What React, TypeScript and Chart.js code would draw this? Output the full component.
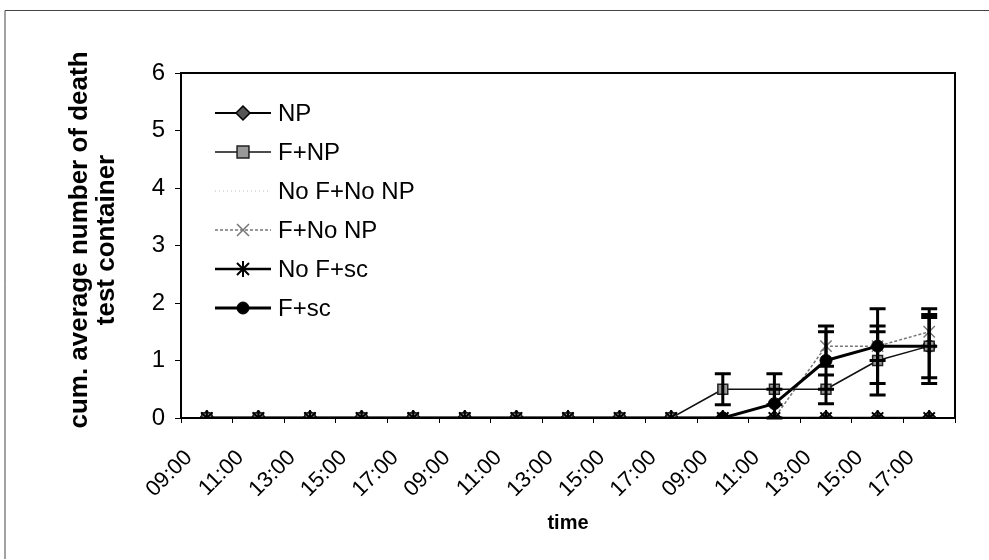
import React, { useEffect, useRef } from "react";
import { Chart, registerables } from "chart.js";

Chart.register(...registerables);

const categories = [
  "09:00", "11:00", "13:00", "15:00", "17:00",
  "09:00", "11:00", "13:00", "15:00", "17:00",
  "09:00", "11:00", "13:00", "15:00", "17:00",
];

const yTicks = [0, 1, 2, 3, 4, 5, 6];

const seriesNames = ["NP", "F+NP", "No F+No NP", "F+No NP", "No F+sc", "F+sc"];

const npValues = [0, 0, 0, 0, 0, 0, 0, 0, 0, 0, 0, 0, 0, 0, 0];
const fnpValues = [0, 0, 0, 0, 0, 0, 0, 0, 0, 0, 0.5, 0.5, 0.5, 1.0, 1.25];
const nofnonpValues = [0, 0, 0, 0, 0, 0, 0, 0, 0, 0, 0, 0, 0, 0, 0];
const fnonpValues = [0, 0, 0, 0, 0, 0, 0, 0, 0, 0, 0, 0, 1.25, 1.25, 1.5];
const nofscValues = [0, 0, 0, 0, 0, 0, 0, 0, 0, 0, 0, 0, 0, 0, 0];
const fscValues = [0, 0, 0, 0, 0, 0, 0, 0, 0, 0, 0, 0.25, 1.0, 1.25, 1.25];

const npErr = [0, 0, 0, 0, 0, 0, 0, 0, 0, 0, 0, 0, 0, 0, 0];
const fnpErr = [0, 0, 0, 0, 0, 0, 0, 0, 0, 0, 0.27, 0.27, 0.25, 0.6, 0.65];
const nofnonpErr = [0, 0, 0, 0, 0, 0, 0, 0, 0, 0, 0, 0, 0, 0, 0];
const fnonpErr = [0, 0, 0, 0, 0, 0, 0, 0, 0, 0, 0, 0, 0.35, 0.25, 0.25];
const nofscErr = [0, 0, 0, 0, 0, 0, 0, 0, 0, 0, 0, 0, 0, 0, 0];
const fscErr = [0, 0, 0, 0, 0, 0, 0, 0, 0, 0, 0, 0.25, 0.5, 0.65, 0.55];

const yTitleLines = ["cum. average number of death", "test container"];
const xTitle = "time";

const FONT = "'Liberation Sans', Arial, Helvetica, sans-serif";

const errorBars: number[][] = [npErr, fnpErr, nofnonpErr, fnonpErr, nofscErr, fscErr];

function drawMarker(ctx: CanvasRenderingContext2D, style: string, x: number, y: number, r: number, fill: string, stroke: string, lw: number) {
  ctx.save();
  ctx.fillStyle = fill;
  ctx.strokeStyle = stroke;
  ctx.lineWidth = lw;
  ctx.beginPath();
  if (style === "rectRot") {
    ctx.moveTo(x, y - r);
    ctx.lineTo(x + r, y);
    ctx.lineTo(x, y + r);
    ctx.lineTo(x - r, y);
    ctx.closePath();
    ctx.fill();
    ctx.stroke();
  } else if (style === "rect") {
    const s = r * 0.85;
    ctx.rect(x - s, y - s, 2 * s, 2 * s);
    ctx.fill();
    ctx.stroke();
  } else if (style === "circle") {
    ctx.arc(x, y, r, 0, Math.PI * 2);
    ctx.fill();
    ctx.stroke();
  } else if (style === "crossRot") {
    const s = r * 0.75;
    ctx.moveTo(x - s, y - s);
    ctx.lineTo(x + s, y + s);
    ctx.moveTo(x - s, y + s);
    ctx.lineTo(x + s, y - s);
    ctx.stroke();
  } else if (style === "star") {
    const s = r * 0.75;
    ctx.moveTo(x - s, y - s);
    ctx.lineTo(x + s, y + s);
    ctx.moveTo(x - s, y + s);
    ctx.lineTo(x + s, y - s);
    ctx.moveTo(x, y - r);
    ctx.lineTo(x, y + r);
    ctx.stroke();
  }
  ctx.restore();
}

const decorPlugin = {
  id: "decor",
  beforeDraw(chart: any) {
    const ctx = chart.ctx as CanvasRenderingContext2D;
    ctx.save();
    ctx.fillStyle = "#ffffff";
    ctx.fillRect(0, 0, chart.width, chart.height);
    ctx.strokeStyle = "#444";
    ctx.lineWidth = 1;
    ctx.beginPath();
    ctx.moveTo(5, 559);
    ctx.lineTo(5, 10.5);
    ctx.lineTo(989, 10.5);
    ctx.stroke();
    ctx.restore();
  },
  afterDatasetsDraw(chart: any) {
    const ctx = chart.ctx as CanvasRenderingContext2D;
    const yScale = chart.scales.y;
    ctx.save();
    ctx.strokeStyle = "#000";
    ctx.lineWidth = 3;
    chart.data.datasets.forEach((ds: any, di: number) => {
      const meta = chart.getDatasetMeta(di);
      const errs = errorBars[di];
      meta.data.forEach((pt: any, i: number) => {
        const e = errs[i];
        if (!e) return;
        const v = ds.data[i];
        const yt = yScale.getPixelForValue(v + e);
        const yb = yScale.getPixelForValue(v - e);
        const x = pt.x;
        ctx.beginPath();
        ctx.moveTo(x, yt);
        ctx.lineTo(x, yb);
        ctx.moveTo(x - 8, yt);
        ctx.lineTo(x + 8, yt);
        ctx.moveTo(x - 8, yb);
        ctx.lineTo(x + 8, yb);
        ctx.stroke();
      });
    });
    ctx.restore();
  },
  afterDraw(chart: any) {
    const ctx = chart.ctx as CanvasRenderingContext2D;
    const a = chart.chartArea;
    ctx.save();
    // plot frame
    ctx.strokeStyle = "#000";
    ctx.lineWidth = 2;
    ctx.strokeRect(a.left, a.top, a.right - a.left, a.bottom - a.top);

    // y title
    ctx.fillStyle = "#000";
    ctx.font = `bold 26px ${FONT}`;
    ctx.textAlign = "center";
    ctx.textBaseline = "middle";
    ctx.save();
    ctx.translate(80, 240);
    ctx.rotate(-Math.PI / 2);
    ctx.fillText(yTitleLines[0], 0, 0);
    ctx.fillText(yTitleLines[1], 0, 27);
    ctx.restore();

    // x title
    ctx.font = `bold 20px ${FONT}`;
    ctx.fillText(xTitle, (a.left + a.right) / 2, 523);

    // legend
    const rows = [113, 152, 191, 230, 269, 308];
    chart.data.datasets.forEach((ds: any, di: number) => {
      const y = rows[di];
      ctx.save();
      ctx.strokeStyle = ds.borderColor;
      ctx.lineWidth = ds.borderWidth;
      ctx.setLineDash(ds.borderDash || []);
      ctx.beginPath();
      ctx.moveTo(215, y);
      ctx.lineTo(271, y);
      ctx.stroke();
      ctx.restore();
      if (ds.pointRadius > 0) {
        drawMarker(ctx, ds.pointStyle, 243, y, ds.pointRadius, ds.pointBackgroundColor, ds.pointBorderColor, ds.pointBorderWidth);
      }
      ctx.fillStyle = "#000";
      ctx.font = `24px ${FONT}`;
      ctx.textAlign = "left";
      ctx.textBaseline = "middle";
      ctx.fillText(seriesNames[di], 278, y + 1);
    });
    ctx.restore();
  },
};

export default function App() {
  const ref = useRef<HTMLCanvasElement | null>(null);

  useEffect(() => {
    document.body.style.margin = "0";
    const canvas = ref.current;
    if (!canvas) return;

    const mk = (
      label: string,
      data: number[],
      color: string,
      width: number,
      dash: number[],
      style: string,
      radius: number,
      fill: string,
      pborder: string,
      pbw: number,
      order: number
    ) => ({
      label,
      data,
      borderColor: color,
      borderWidth: width,
      borderDash: dash,
      pointStyle: style,
      pointRadius: radius,
      pointBackgroundColor: fill,
      pointBorderColor: pborder,
      pointBorderWidth: pbw,
      fill: false,
      tension: 0,
      order,
    });

    const chart = new Chart(canvas, {
      type: "line",
      data: {
        labels: categories,
        datasets: [
          mk(seriesNames[0], npValues, "#000", 2, [], "rectRot", 7, "#555", "#000", 1.5, 6),
          mk(seriesNames[1], fnpValues, "#111", 1.5, [], "rect", 7, "#999", "#222", 1.5, 2),
          mk(seriesNames[2], nofnonpValues, "#bbb", 1, [1, 3], "circle", 0, "#bbb", "#bbb", 0, 5),
          mk(seriesNames[3], fnonpValues, "#777", 1.5, [3, 2], "crossRot", 8, "#777", "#777", 1.5, 4),
          mk(seriesNames[4], nofscValues, "#000", 2.5, [], "star", 8, "#000", "#000", 2, 1),
          mk(seriesNames[5], fscValues, "#000", 3, [], "circle", 6, "#000", "#000", 1, 3),
        ] as any,
      },
      options: {
        responsive: false,
        animation: false,
        devicePixelRatio: 1,
        layout: { padding: { left: 50, top: 73, right: 34, bottom: 0 } },
        plugins: {
          legend: { display: false },
          tooltip: { enabled: false },
          title: { display: false },
        },
        elements: { line: { borderJoinStyle: "round" } },
        scales: {
          x: {
            type: "category",
            offset: true,
            afterFit: (s: any) => {
              s.height = 142;
            },
            grid: {
              display: true,
              offset: true,
              drawOnChartArea: false,
              drawTicks: true,
              tickLength: 5,
              color: "#000",
            },
            border: { display: true, color: "#000", width: 2 },
            ticks: {
              color: "#000",
              font: { family: FONT, size: 22 },
              maxRotation: 45,
              minRotation: 45,
              autoSkip: false,
              padding: 22,
              labelOffset: -18,
            },
          },
          y: {
            type: "linear",
            min: 0,
            max: 6,
            afterFit: (s: any) => {
              s.width = 131;
            },
            afterBuildTicks: (s: any) => {
              s.ticks = yTicks.map((v) => ({ value: v }));
            },
            grid: {
              display: true,
              drawOnChartArea: false,
              drawTicks: true,
              tickLength: 6,
              color: "#000",
            },
            border: { display: true, color: "#000", width: 2 },
            ticks: {
              color: "#000",
              font: { family: FONT, size: 24 },
              padding: 10,
            },
          },
        },
      },
      plugins: [decorPlugin],
    });

    return () => {
      chart.destroy();
    };
  }, []);

  return <canvas ref={ref} width={989} height={560} style={{ display: "block" }} />;
}
